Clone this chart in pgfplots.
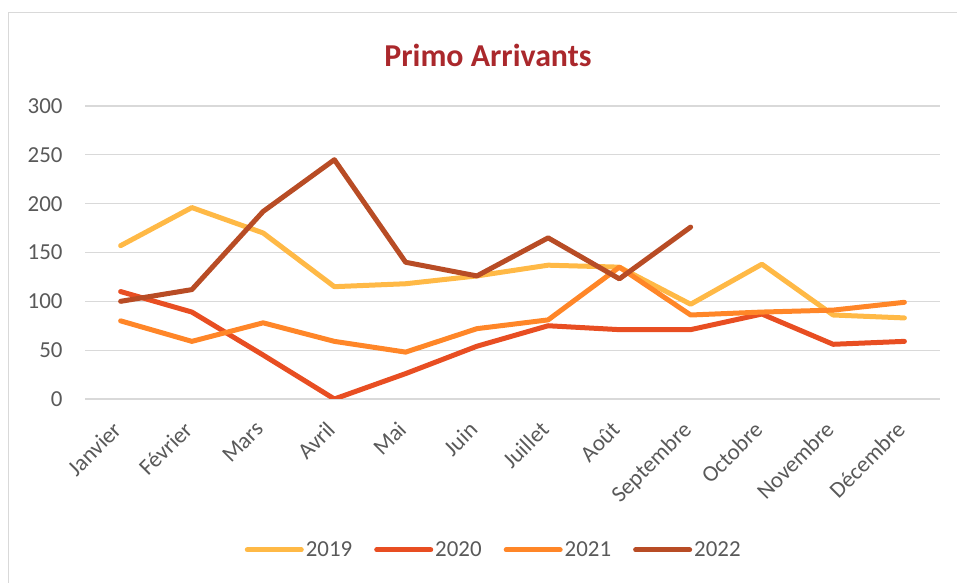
\documentclass[border=0pt]{standalone}
\usepackage{fontspec}
\setmainfont{Carlito}
\usepackage{pgfplots}
\pgfplotsset{compat=1.18}
\definecolor{c19}{RGB}{255,185,70}
\definecolor{c20}{RGB}{232,78,34}
\definecolor{c21}{RGB}{255,134,40}
\definecolor{c22}{RGB}{184,76,37}
\definecolor{txt}{RGB}{89,89,89}
\definecolor{gridc}{RGB}{217,217,217}
\definecolor{ttl}{RGB}{170,40,44}
\begin{document}
\begin{tikzpicture}[x=1bp,y=1bp]
\useasboundingbox (0,0) rectangle (957,583);
\begin{scope}
\clip (0,0) rectangle (957,583);
\draw[gridc, line width=1.2bp] (8.5,-10) rectangle (970,570.5);
\end{scope}
\node[text=ttl, font=\fontsize{32}{36}\selectfont\bfseries] at (488,528) {Primo Arrivants};
\begin{axis}[
  at={(85bp,184bp)}, anchor=south west,
  scale only axis, width=855bp, height=293bp,
  xmin=-0.5, xmax=11.5, ymin=0, ymax=300,
  ytick={0,50,...,300}, xtick={0,...,11},
  xticklabels={Janvier,Février,Mars,Avril,Mai,Juin,Juillet,Août,Septembre,Octobre,Novembre,Décembre},
  axis line style={draw=none},
  ymajorgrids, grid style={gridc, line width=1.3bp},
  major tick length=0pt,
  tick label style={font=\fontsize{23}{26}\selectfont, text=txt},
  yticklabel style={anchor=east, xshift=-19bp},
  xticklabel style={rotate=45, anchor=north east, xshift=-18bp, yshift=-5bp},
  /pgf/number format/assume math mode=true,
  legend style={at={(0.478,-0.515)}, anchor=center, draw=none, fill=none,
    font=\fontsize{23}{26}\selectfont, text=txt, legend columns=4,
    nodes={inner xsep=2bp},
    /tikz/every even column/.append style={column sep=20bp}},
  legend image code/.code={\draw[#1, line width=5bp, line cap=round] (0,0) -- (54bp,0);},
  every axis plot/.append style={line width=5bp, line cap=round, line join=round},
]
\addplot[c19] coordinates {(0,157) (1,196) (2,170) (3,115) (4,118) (5,126) (6,137) (7,135) (8,97) (9,138) (10,86) (11,83)};
\addlegendentry{2019}
\addplot[c20] coordinates {(0,110) (1,89) (2,45) (3,0) (4,26) (5,54) (6,75) (7,71) (8,71) (9,87) (10,56) (11,59)};
\addlegendentry{2020}
\addplot[c21] coordinates {(0,80) (1,59) (2,78) (3,59) (4,48) (5,72) (6,81) (7,135) (8,86) (9,89) (10,91) (11,99)};
\addlegendentry{2021}
\addplot[c22] coordinates {(0,100) (1,112) (2,192) (3,245) (4,140) (5,126) (6,165) (7,123) (8,176)};
\addlegendentry{2022}
\end{axis}
\end{tikzpicture}
\end{document}
